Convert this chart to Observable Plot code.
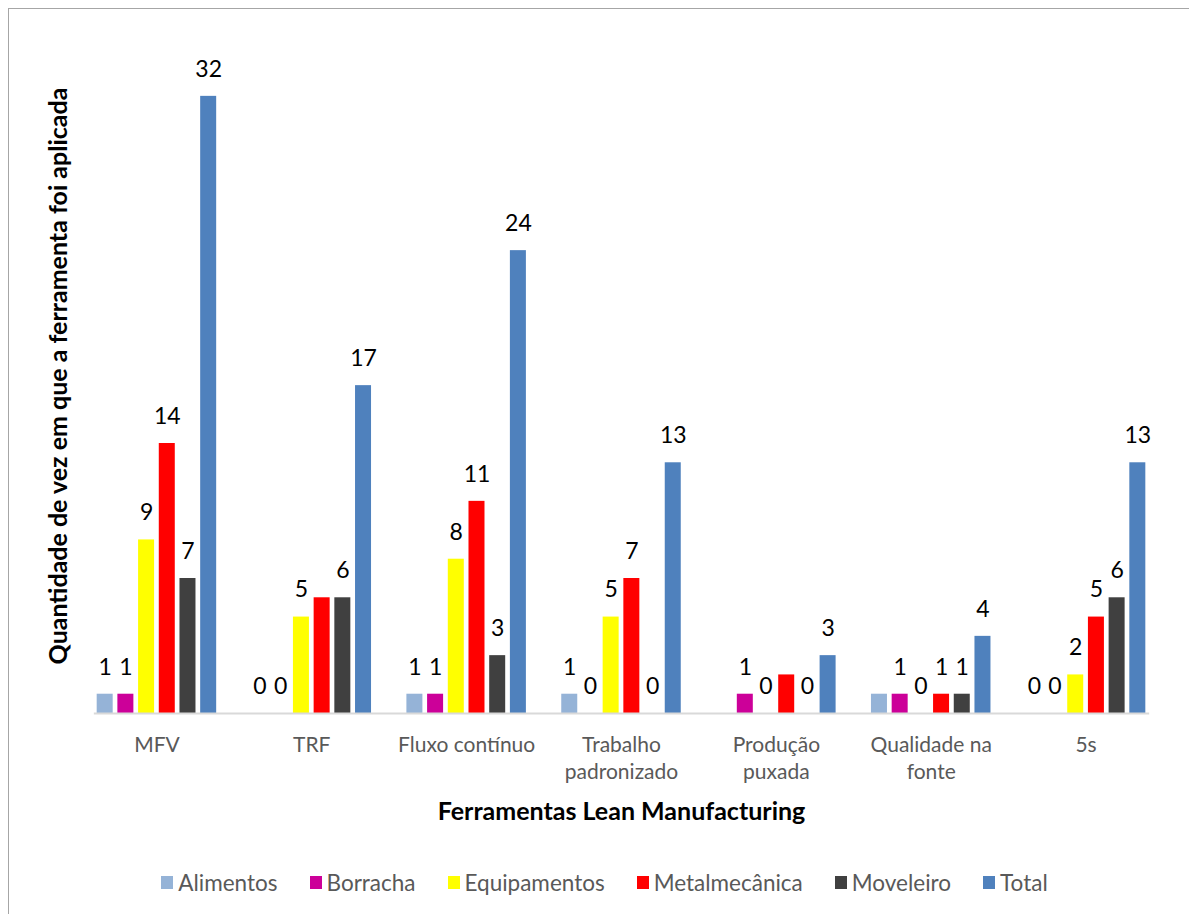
<!DOCTYPE html>
<html>
<head>
<meta charset="utf-8">
<script src="https://cdn.jsdelivr.net/npm/d3@7"></script>
<script src="https://cdn.jsdelivr.net/npm/@observablehq/plot@0.6"></script>
<style>
  html, body { margin: 0; padding: 0; background: #fff; overflow: hidden; }
  #wrap { position: relative; width: 1189px; height: 914px; font-family: Lato, "Open Sans", sans-serif; }
  #frame { position: absolute; left: 8px; top: 8px; width: 1200px; height: 1000px; border: 1.5px solid #a6a6a6; box-sizing: border-box; }
  #chart { position: absolute; left: 0; top: 0; }
  #legend { position: absolute; left: 0; top: 869px; width: 1209px; display: flex; justify-content: center; gap: 0 32px; font-size: 22.5px; color: #595959; }
  #legend .item { display: flex; align-items: center; }
  #legend .sw { width: 12px; height: 13px; margin-right: 5px; }
</style>
</head>
<body>
<div id="wrap">
  <div id="frame"></div>
  <div id="chart"></div>
  <div id="legend"></div>
</div>
<script>
// Lean tools and the sectors in which they were applied
const categories = ["MFV", "TRF", "Fluxo contínuo", "Trabalho padronizado", "Produção puxada", "Qualidade na fonte", "5s"];
const tickLabels = ["MFV", "TRF", "Fluxo contínuo", "Trabalho\npadronizado", "Produção\npuxada", "Qualidade na\nfonte", "5s"];
const series = ["Alimentos", "Borracha", "Equipamentos", "Metalmecânica", "Moveleiro", "Total"];

const alimentos     = [1, 0, 1, 1, 0, 1, 0];
const borracha      = [1, 0, 1, 0, 1, 1, 0];
const equipamentos  = [9, 5, 8, 5, 0, 0, 2];
const metalmecanica = [14, 6, 11, 7, 2, 1, 5];
const moveleiro     = [7, 6, 3, 0, 0, 1, 6];
const total         = [32, 17, 24, 13, 3, 4, 13];

const colors = ["#95B3D7", "#CC0099", "#FFFF00", "#FF0000", "#404040", "#4F81BD"];

// value labels that are not shown on the chart
const hiddenLabels = [
  ["TRF", "Metalmecânica"],
  ["Produção puxada", "Alimentos"],
  ["Produção puxada", "Metalmecânica"],
  ["Qualidade na fonte", "Alimentos"]
];

const yTitle = "Quantidade de vez em que a ferramenta foi aplicada";
const xTitle = "Ferramentas Lean Manufacturing";

const seriesValues = [alimentos, borracha, equipamentos, metalmecanica, moveleiro, total];
const rows = [];
categories.forEach((c, i) => {
  series.forEach((s, j) => rows.push({category: c, series: s, value: seriesValues[j][i]}));
});
const isHidden = (d) => hiddenLabels.some(([c, s]) => c === d.category && s === d.series);
const labelRows = rows.filter((d) => !isHidden(d));

const font = "Lato, 'Open Sans', sans-serif";

const chart = Plot.plot({
  width: 1189,
  height: 914,
  marginLeft: 79,
  marginRight: 26,
  marginTop: 38,
  marginBottom: 201,
  style: {fontFamily: font, background: "transparent"},
  fx: {domain: categories, paddingInner: 0.198, paddingOuter: 0.099, round: false, label: null},
  x: {domain: series, paddingInner: 0.227, paddingOuter: 0.1135, round: false, axis: null},
  y: {domain: [0, 35], axis: null},
  color: {domain: series, range: colors},
  marks: [
    Plot.barY(rows, {fx: "category", x: "series", y: "value", fill: "series"}),
    // category axis baseline across the whole plot
    Plot.frame({anchor: "bottom", stroke: "#d9d9d9", strokeWidth: 2, facet: "super"}),
    Plot.text(labelRows, {
      fx: "category", x: "series", y: "value", text: (d) => String(d.value),
      dy: -27, fontSize: 23, fill: "#000", lineAnchor: "middle"
    }),
    Plot.axisFx({
      anchor: "bottom", tickSize: 0, tickPadding: 20, fontSize: 21, lineHeight: 1.26,
      color: "#595959", label: null,
      tickFormat: (d) => tickLabels[categories.indexOf(d)]
    }),
    Plot.text([yTitle], {
      frameAnchor: "left", textAnchor: "middle", rotate: -90, dx: -28, facet: "super",
      lineAnchor: "bottom",
      fontSize: 25, fontWeight: "bold", fill: "#000"
    }),
    Plot.text([xTitle], {
      frameAnchor: "bottom", textAnchor: "middle", dy: 106, facet: "super",
      fontSize: 25, fontWeight: "bold", fill: "#000"
    })
  ]
});
document.getElementById("chart").appendChild(chart);

const legend = d3.select("#legend");
series.forEach((s, j) => {
  const item = legend.append("div").attr("class", "item");
  item.append("div").attr("class", "sw").style("background", colors[j]);
  item.append("span").text(s);
});
</script>
</body>
</html>
